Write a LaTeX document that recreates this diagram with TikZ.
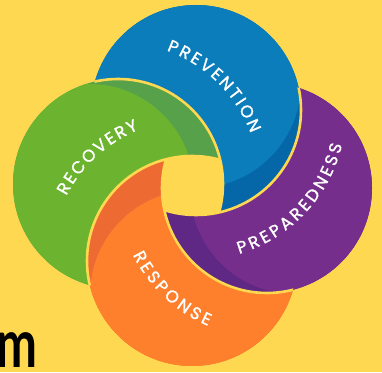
\documentclass[tikz,border=0pt]{standalone}
\usepackage{fontspec}
\newfontfamily\pop{Poppins}[FakeBold=1.3]
\newfontfamily\mfont{Lato}
\definecolor{bg}{HTML}{FED850}
\definecolor{blueL}{HTML}{0B7DBB}
\definecolor{blueD}{HTML}{0566A8}
\definecolor{purL}{HTML}{762E8C}
\definecolor{purD}{HTML}{5F2884}
\definecolor{orL}{HTML}{FE7F2C}
\definecolor{orD}{HTML}{EE6A33}
\definecolor{grL}{HTML}{6CB42F}
\definecolor{grD}{HTML}{57A14A}
\newcommand\lblfont{\pop\fontsize{17}{17}\selectfont}
\tikzset{
  lettr/.style={text=white, inner sep=0pt, anchor=center, font=\lblfont},
  cutline/.style={draw=bg, line width=2.6pt},
}
% #1 centre, #2 radius of letter centres, #3 angle of first letter, #4 angle of last letter, #5 letters
\newcommand\arctext[5]{%
  \begingroup
  \lblfont
  \gdef\acc{0}%
  \foreach \l [count=\i] in {#5}{%
    \pgfmathsetmacro\w{width("\l")}%
    \pgfmathparse{\acc+\w}\xdef\acc{\pgfmathresult}%
    \ifnum\i=1 \xdef\wfirst{\w}\fi
    \xdef\wlast{\w}\xdef\nl{\i}}%
  \pgfmathsetmacro\span{abs(#4-#3)*#2/57.2958}%
  \pgfmathsetmacro\spc{(\span-(\acc-\wfirst/2-\wlast/2))/(\nl-1)}%
  \pgfmathsetmacro\dir{sign(#4-#3)}%
  \gdef\pos{0}%
  \foreach \l [count=\i] in {#5}{%
    \pgfmathsetmacro\w{width("\l")}%
    \pgfmathsetmacro\ang{#3+\dir*(\pos+\w/2-\wfirst/2)/#2*57.2958}%
    \pgfmathsetmacro\rot{\ang+\dir*90}%
    \node[lettr, rotate=\rot] (#1-t\i) at ([shift={(\ang:#2)}]#1) {\l};%
    \pgfmathparse{\pos+\w+\spc}\xdef\pos{\pgfmathresult}%
  }%
  \endgroup
}
\begin{document}
\begin{tikzpicture}[x=1pt,y=1pt]
\fill[bg] (0,0) rectangle (382,372);
\useasboundingbox (0,0) rectangle (382,372);
\def\R{105}
\def\big{(-20,-20) rectangle (402,392)}
% disk centres
\coordinate (cB) at (196,262);
\coordinate (cP) at (267,184);
\coordinate (cO) at (192,111);
\coordinate (cG) at (118,188);
% shading circles
\coordinate (sB) at (196,289);
\coordinate (sP) at (295,183);
\coordinate (sO) at (195,77);
\coordinate (sG) at (89,183);
% ---- blue = B minus G
\begin{scope}
  \clip (cB) circle (\R);
  \fill[blueD, even odd rule] \big (cG) circle (\R);
  \clip (sB) circle (\R);
  \fill[blueL, even odd rule] \big (cG) circle (\R);
\end{scope}
% ---- purple = P minus B
\begin{scope}
  \clip (cP) circle (\R);
  \fill[purD, even odd rule] \big (cB) circle (\R);
  \clip (sP) circle (\R);
  \fill[purL, even odd rule] \big (cB) circle (\R);
\end{scope}
% ---- orange = O minus P
\begin{scope}
  \clip (cO) circle (\R);
  \fill[orD, even odd rule] \big (cP) circle (\R);
  \clip (sO) circle (\R);
  \fill[orL, even odd rule] \big (cP) circle (\R);
\end{scope}
% ---- green = G minus O
\begin{scope}
  \clip (cG) circle (\R);
  \fill[grD, even odd rule] \big (cO) circle (\R);
  \clip (sG) circle (\R);
  \fill[grL, even odd rule] \big (cO) circle (\R);
\end{scope}
% ---- yellow cut lines
\begin{scope}\clip (cB) circle (\R); \draw[cutline] (cG) circle (\R);\end{scope}
\begin{scope}\clip (cP) circle (\R); \draw[cutline] (cB) circle (\R);\end{scope}
\begin{scope}\clip (cO) circle (\R); \draw[cutline] (cP) circle (\R);\end{scope}
\begin{scope}\clip (cG) circle (\R); \draw[cutline] (cO) circle (\R);\end{scope}
% ---- labels
\arctext{cG}{148}{68.0}{23.3}{P,R,E,V,E,N,T,I,O,N}
\arctext{cO}{147.5}{150.5}{114.1}{R,E,C,O,V,E,R,Y}
\arctext{cB}{144.3}{-71.4}{-15.3}{P,R,E,P,A,R,E,D,N,E,S,S}
\arctext{cP}{144}{208.5}{245.2}{R,E,S,P,O,N,S,E}
% ---- partial word
\node[anchor=base east, inner sep=0pt, font=\mfont\bfseries\fontsize{67}{67}\selectfont, xscale=0.73] (mletter) at (38,5) {m};
\end{tikzpicture}
\end{document}
